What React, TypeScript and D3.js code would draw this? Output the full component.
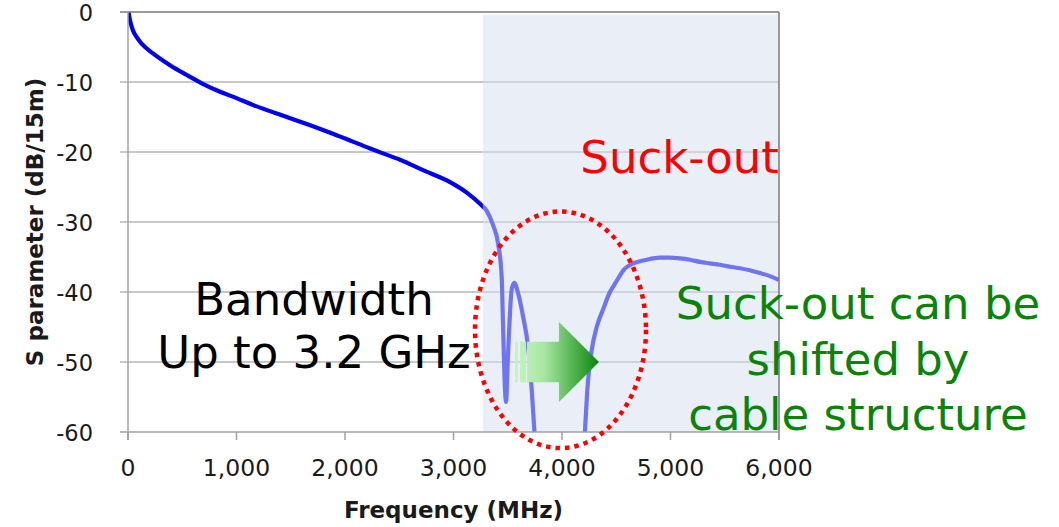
import React, { useEffect, useRef } from 'react';
import * as d3 from 'd3';

// S parameter vs frequency
const frequencies = [
  5, 12, 25, 45, 80, 130, 233, 387, 541, 694, 848, 1000, 1155, 1463, 1647, 1889, 2200, 2350, 2507,
  2719, 2968, 3122, 3244, 3306, 3364, 3410, 3444, 3456, 3475, 3484, 3502, 3536, 3560, 3594, 3641,
  3687, 3721, 3745, 3780, 3900, 4050, 4180, 4212, 4233, 4274, 4320, 4381, 4442, 4473, 4520, 4565,
  4610, 4657, 4720, 4781, 4840, 4903, 4990, 5088, 5180, 5272, 5360, 5456, 5550, 5641, 5730, 5825,
  5910, 6000,
];
const sParam = [
  0, -0.7, -1.6, -2.6, -3.6, -4.6, -5.95, -7.6, -9.0, -10.3, -11.4, -12.3, -13.3, -15.0, -16.0,
  -17.4, -19.3, -20.2, -21.1, -22.6, -24.3, -25.8, -27.4, -28.4, -30.4, -33.0, -37.8, -44.4, -54.0,
  -55.7, -49.2, -39.7, -38.7, -40.1, -43.5, -47.8, -54.0, -59.7, -66, -75, -75, -66, -59.7, -54.0,
  -48.3, -45.0, -42.4, -40.0, -39.2, -38.0, -36.9, -36.3, -35.9, -35.6, -35.4, -35.2, -35.1, -35.1,
  -35.2, -35.4, -35.7, -35.9, -36.1, -36.4, -36.6, -36.9, -37.3, -37.7, -38.3,
];

const xTicks = [0, 1000, 2000, 3000, 4000, 5000, 6000];
const yTicks = [0, -10, -20, -30, -40, -50, -60];

const suckOutStart = 3270;
const bandwidthLines = ['Bandwidth', 'Up to 3.2 GHz'];
const shiftLines = ['Suck-out can be', 'shifted by', 'cable structure'];

// annotation geometry in data units (MHz / dB)
const ellipse = { f: 3986, db: -45.4, rf: 788, rdb: 16.9 };
const arrow = { tail: 3677, headBase: 3972, tip: 4341, db: -50, body: 2.9, head: 5.7 };
const arrowStripes = [
  [3567, 3594],
  [3613, 3668],
];

const FONT = '"DejaVu Sans", Verdana, sans-serif';

export default function App() {
  const svgRef = useRef<SVGSVGElement>(null);

  useEffect(() => {
    if (!svgRef.current) return;
    const svg = d3.select(svgRef.current);
    svg.selectAll('*').remove();

    const x = d3.scaleLinear().domain([0, 6000]).range([128, 779]);
    const y = d3.scaleLinear().domain([0, -60]).range([12, 432]);

    const defs = svg.append('defs');
    defs
      .append('clipPath')
      .attr('id', 'plot-clip')
      .append('rect')
      .attr('x', x(0))
      .attr('y', y(0))
      .attr('width', x(6000) - x(0))
      .attr('height', y(-60) - y(0));

    const grad = defs
      .append('linearGradient')
      .attr('id', 'arrow-grad')
      .attr('gradientUnits', 'userSpaceOnUse')
      .attr('x1', x(arrowStripes[0][0]))
      .attr('x2', x(arrow.tip))
      .attr('y1', 0)
      .attr('y2', 0);
    grad.append('stop').attr('offset', '0%').attr('stop-color', '#c6f5c2');
    grad.append('stop').attr('offset', '35%').attr('stop-color', '#a6e6a2');
    grad.append('stop').attr('offset', '100%').attr('stop-color', '#0a860a');

    // horizontal gridlines
    svg
      .append('g')
      .selectAll('line')
      .data(yTicks.slice(1, -1))
      .enter()
      .append('line')
      .attr('x1', x(0) - 8)
      .attr('x2', x(6000))
      .attr('y1', (d) => y(d))
      .attr('y2', (d) => y(d))
      .attr('stroke', '#b4b4b4')
      .attr('stroke-width', 1.5);

    // curve
    const line = d3
      .line<number>()
      .x((d, i) => x(frequencies[i]))
      .y((d) => y(d))
      .curve(d3.curveMonotoneX);

    svg
      .append('path')
      .datum(sParam)
      .attr('clip-path', 'url(#plot-clip)')
      .attr('d', line)
      .attr('fill', 'none')
      .attr('stroke', '#0000f5')
      .attr('stroke-width', 4.2)
      .attr('stroke-linejoin', 'round');

    // suck-out band overlay
    svg
      .append('rect')
      .attr('x', x(suckOutStart))
      .attr('y', y(0) + 2.5)
      .attr('width', x(6000) - x(suckOutStart))
      .attr('height', y(-60) - y(0) - 2.5)
      .attr('fill', 'rgb(214,223,240)')
      .attr('opacity', 0.52);

    // axes frame
    svg
      .append('line')
      .attr('x1', x(0) - 8)
      .attr('x2', x(6000))
      .attr('y1', y(0))
      .attr('y2', y(0))
      .attr('stroke', '#7a7a7a')
      .attr('stroke-width', 1.5);
    svg
      .append('line')
      .attr('x1', x(6000))
      .attr('x2', x(6000))
      .attr('y1', y(0))
      .attr('y2', y(-60) + 8)
      .attr('stroke', '#777')
      .attr('stroke-width', 1.5);
    svg
      .append('line')
      .attr('x1', x(0))
      .attr('x2', x(0))
      .attr('y1', y(0))
      .attr('y2', y(-60) + 8)
      .attr('stroke', '#a0a0a0')
      .attr('stroke-width', 1.5);
    svg
      .append('line')
      .attr('x1', x(0) - 8)
      .attr('x2', x(6000))
      .attr('y1', y(-60))
      .attr('y2', y(-60))
      .attr('stroke', '#a0a0a0')
      .attr('stroke-width', 1.5);

    svg
      .append('g')
      .selectAll('line')
      .data(xTicks)
      .enter()
      .append('line')
      .attr('x1', (d) => x(d))
      .attr('x2', (d) => x(d))
      .attr('y1', y(-60))
      .attr('y2', y(-60) + 8)
      .attr('stroke', '#a0a0a0')
      .attr('stroke-width', 1.5);

    // tick labels
    svg
      .append('g')
      .selectAll('text')
      .data(yTicks)
      .enter()
      .append('text')
      .attr('x', 93)
      .attr('y', (d) => y(d))
      .attr('dy', '0.4em')
      .attr('text-anchor', 'end')
      .style('font-family', FONT)
      .style('font-size', '22.5px')
      .style('fill', '#1a1a1a')
      .text((d) => String(d));

    svg
      .append('g')
      .selectAll('text')
      .data(xTicks)
      .enter()
      .append('text')
      .attr('x', (d) => x(d))
      .attr('y', 476)
      .attr('text-anchor', 'middle')
      .style('font-family', FONT)
      .style('font-size', '23.5px')
      .style('fill', '#1a1a1a')
      .text((d) => d3.format(',')(d));

    // axis titles
    svg
      .append('text')
      .attr('x', x(3000))
      .attr('y', 518)
      .attr('text-anchor', 'middle')
      .style('font-family', FONT)
      .style('font-size', '23px')
      .style('font-weight', 'bold')
      .style('fill', '#1a1a1a')
      .text('Frequency (MHz)');

    svg
      .append('text')
      .attr('transform', 'translate(43,222) rotate(-90)')
      .attr('text-anchor', 'middle')
      .style('font-family', FONT)
      .style('font-size', '23px')
      .style('font-weight', 'bold')
      .style('fill', '#1a1a1a')
      .text('S parameter (dB/15m)');

    // arrow
    const ag = svg.append('g').attr('fill', 'url(#arrow-grad)');
    ag.selectAll('rect')
      .data(arrowStripes)
      .enter()
      .append('rect')
      .attr('x', (d) => x(d[0]))
      .attr('width', (d) => x(d[1]) - x(d[0]))
      .attr('y', y(arrow.db + arrow.body))
      .attr('height', y(arrow.db - arrow.body) - y(arrow.db + arrow.body));
    const ap = d3.path();
    ap.moveTo(x(arrow.tail), y(arrow.db + arrow.body));
    ap.lineTo(x(arrow.headBase), y(arrow.db + arrow.body));
    ap.lineTo(x(arrow.headBase), y(arrow.db + arrow.head));
    ap.lineTo(x(arrow.tip), y(arrow.db));
    ap.lineTo(x(arrow.headBase), y(arrow.db - arrow.head));
    ap.lineTo(x(arrow.headBase), y(arrow.db - arrow.body));
    ap.lineTo(x(arrow.tail), y(arrow.db - arrow.body));
    ap.closePath();
    ag.append('path').attr('d', ap.toString());

    // dotted ellipse
    svg
      .append('ellipse')
      .attr('cx', x(ellipse.f))
      .attr('cy', y(ellipse.db))
      .attr('rx', x(ellipse.rf) - x(0))
      .attr('ry', y(-ellipse.rdb) - y(0))
      .attr('fill', 'none')
      .attr('stroke', '#ff0000')
      .attr('stroke-width', 4.5)
      .attr('stroke-dasharray', '4.5 5');

    // annotations
    svg
      .append('text')
      .attr('x', x(6000))
      .attr('y', 173)
      .attr('text-anchor', 'end')
      .style('font-family', FONT)
      .style('font-size', '45px')
      .style('fill', '#ff0000')
      .text('Suck-out');

    svg
      .append('g')
      .selectAll('text')
      .data(bandwidthLines)
      .enter()
      .append('text')
      .attr('x', 314)
      .attr('y', (d, i) => 315 + i * 53)
      .attr('text-anchor', 'middle')
      .style('font-family', FONT)
      .style('font-size', '45px')
      .style('fill', '#000')
      .text((d) => d);

    svg
      .append('g')
      .selectAll('text')
      .data(shiftLines)
      .enter()
      .append('text')
      .attr('x', 858)
      .attr('y', (d, i) => 319 + i * 55.5)
      .attr('text-anchor', 'middle')
      .style('font-family', FONT)
      .style('font-size', '45px')
      .style('fill', '#088408')
      .text((d) => d);
  }, []);

  return (
    <svg
      ref={svgRef}
      width={1059}
      height={527}
      style={{ position: 'absolute', left: 0, top: 0, background: '#fff' }}
    ></svg>
  );
}
